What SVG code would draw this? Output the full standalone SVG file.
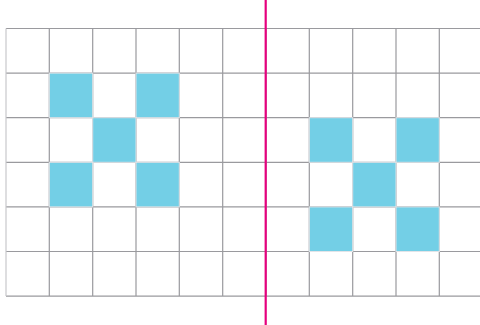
<svg xmlns="http://www.w3.org/2000/svg" width="480" height="325" viewBox="0 0 480 325">
<style>
.c{fill:#73cfe6;stroke:#e2e4e8;stroke-width:1}
.g{stroke:#9a9a9e;stroke-width:1.2;fill:none}
.m{stroke:#e6007e;stroke-width:2.2}
</style>
<rect width="480" height="325" fill="#ffffff"/>
<g id="grid" class="g">
<path d="M6,28.5H480M6,73.1H480M6,117.7H480M6,162.3H480M6,206.9H480M6,251.5H480M6,296.1H480"/>
<path d="M49.3,28.5V296.1M92.7,28.5V296.1M136,28.5V296.1M179.3,28.5V296.1M222.7,28.5V296.1M266,28.5V296.1M309.3,28.5V296.1M352.7,28.5V296.1M396,28.5V296.1M439.3,28.5V296.1"/>
<path d="M6,28.5V296.1" stroke="#c8c8cc"/>
</g>
<g id="cells">
<rect class="c" x="49.3" y="73.1" width="43.4" height="44.6"/>
<rect class="c" x="136" y="73.1" width="43.3" height="44.6"/>
<rect class="c" x="92.7" y="117.7" width="43.3" height="44.6"/>
<rect class="c" x="49.3" y="162.3" width="43.4" height="44.6"/>
<rect class="c" x="136" y="162.3" width="43.3" height="44.6"/>
<rect class="c" x="309.3" y="117.7" width="43.4" height="44.6"/>
<rect class="c" x="396" y="117.7" width="43.3" height="44.6"/>
<rect class="c" x="352.7" y="162.3" width="43.3" height="44.6"/>
<rect class="c" x="309.3" y="206.9" width="43.4" height="44.6"/>
<rect class="c" x="396" y="206.9" width="43.3" height="44.6"/>
</g>
<g id="axis">
<line class="m" x1="265.7" y1="0" x2="265.7" y2="325"/>
</g>
</svg>
